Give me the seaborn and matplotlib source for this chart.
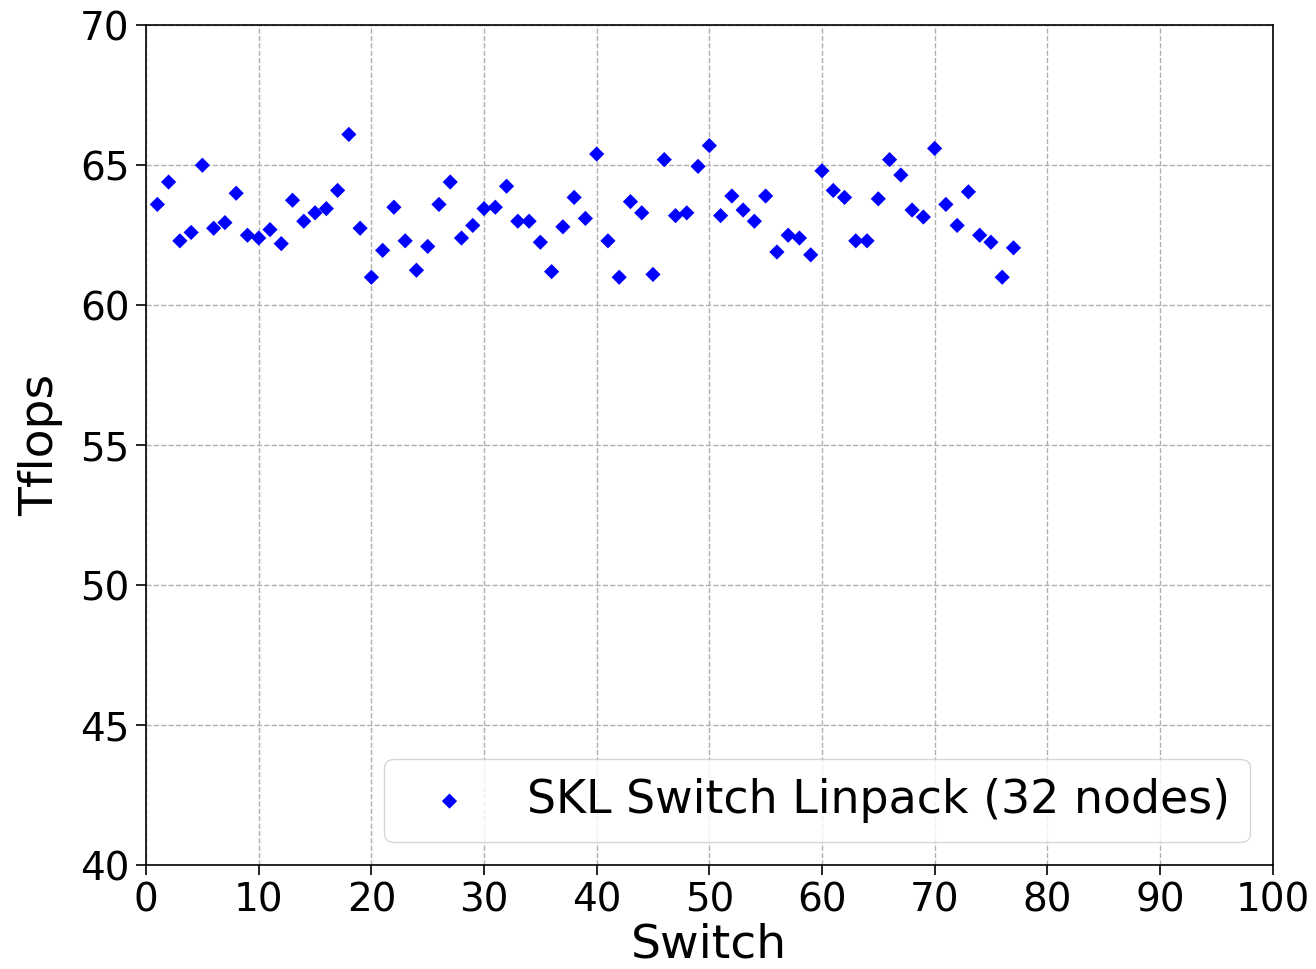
import numpy as np
import pandas as pd
import matplotlib
matplotlib.use("Agg")
import matplotlib.pyplot as plt
import seaborn as sns

switch = list(range(1, 78))
tflops = [63.6, 64.4, 62.3, 62.6, 65.0, 62.75, 62.95, 64.0, 62.5, 62.4,
          62.7, 62.2, 63.75, 63.0, 63.3, 63.45, 64.1, 66.1, 62.75, 61.0,
          61.96, 63.5, 62.3, 61.25, 62.1, 63.6, 64.4, 62.4, 62.85, 63.45,
          63.5, 64.25, 63.0, 63.0, 62.25, 61.2, 62.8, 63.85, 63.1, 65.4,
          62.3, 61.0, 63.7, 63.3, 61.1, 65.2, 63.2, 63.3, 64.96, 65.7,
          63.2, 63.9, 63.4, 63.0, 63.9, 61.9, 62.5, 62.4, 61.8, 64.8,
          64.1, 63.85, 62.3, 62.3, 63.8, 65.2, 64.65, 63.4, 63.15, 65.6,
          63.6, 62.85, 64.05, 62.5, 62.25, 61.0, 62.05]
label = "SKL Switch Linpack (32 nodes)"

df = pd.DataFrame({"Switch": switch, "Tflops": tflops})

sns.set_style("white")
plt.rcParams['font.family'] = ['DejaVu Sans']
plt.rcParams['text.color'] = 'black'
plt.rcParams['axes.labelcolor'] = 'black'
plt.rcParams['xtick.color'] = 'black'
plt.rcParams['ytick.color'] = 'black'

fig, ax = plt.subplots(figsize=(13.16, 9.69), dpi=100)
fig.subplots_adjust(left=0.111, right=0.967, top=0.974, bottom=0.107)

sns.scatterplot(data=df, x="Switch", y="Tflops", marker="D", color="blue",
                s=60, edgecolor="none", label=label, ax=ax)

ax.set_xlim(0, 100)
ax.set_ylim(40, 70)
ax.set_xticks(np.arange(0, 101, 10))
ax.set_yticks(np.arange(40, 71, 5))
ax.grid(True, linestyle="--", color="#b0b0b0", linewidth=1)
for s in ax.spines.values():
    s.set_color("black")
    s.set_linewidth(1.2)
ax.tick_params(axis="both", labelsize=28, length=7, width=1.2, bottom=True, left=True, pad=5)
ax.set_xlabel("Switch", fontsize=34, labelpad=2)
ax.set_ylabel("Tflops", fontsize=34, labelpad=12)
ax.legend(loc="lower right", fontsize=33, markerscale=1.0, frameon=True,
          handletextpad=0.7, borderpad=0.42, borderaxespad=0.5)

plt.savefig("out.png", dpi=100)
